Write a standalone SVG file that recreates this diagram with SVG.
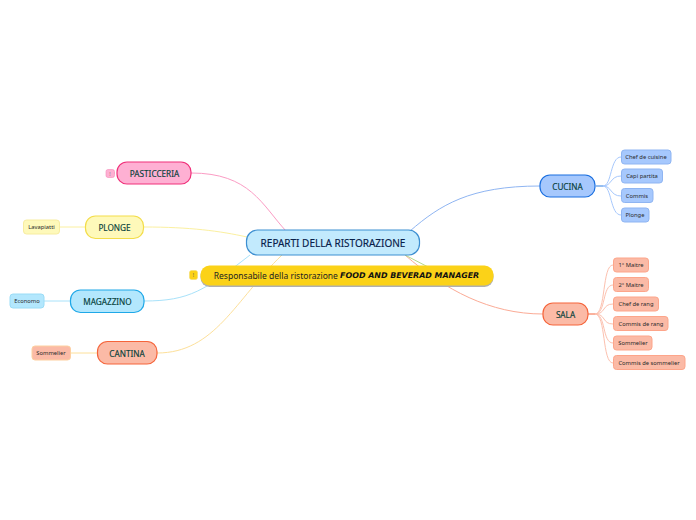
<svg xmlns="http://www.w3.org/2000/svg" width="696" height="520" viewBox="0 0 696 520">
<style>
text{font-family:"Noto Sans","Open Sans",sans-serif;text-anchor:middle;dominant-baseline:central}
.m{font-size:8.200px;fill:#06403a;stroke:#06403a;stroke-width:0.150px}
.r{font-size:10px;fill:#08204a;stroke:#08204a;stroke-width:0.150px}
.n{font-size:5.800px;fill:#2a2a2a}
.c path{fill:none;stroke-width:1}
.mn{stroke-width:1.200}
.sb{stroke-width:1}
</style>
<rect width="696" height="520" fill="#fff"/>
<g class="c" id="connectors">
<path d="M191 173C250 173 262 205 286 231" stroke="#fb9cc4"/>
<path d="M144 227C190 227 220 231 247 237" stroke="#fbf0a0"/>
<path d="M144 301C190 301 205 290 250 255" stroke="#a8e2fa"/>
<path d="M157 353C215 353 235 300 282 255" stroke="#fde09a"/>
<path d="M540 186C470 186 440 205 410 231" stroke="#8fb5f2"/>
<path d="M543 314C490 314 445 290 405 255" stroke="#fbab96"/>
<path d="M405 255L430 268" stroke="#b5d98a"/>
<path d="M115 173H106" stroke="#fb9cc4"/>
<path d="M85 227H60" stroke="#fbf0a0"/>
<path d="M70 301H44" stroke="#a8e2fa"/>
<path d="M97 353H71" stroke="#fde09a"/>
<path d="M596 186H603" stroke="#2f7fe0" stroke-width="2"/>
<path d="M603 186C612 186 610 157 621 157" stroke="#a6c8fd"/>
<path d="M603 186C612 186 610 176 621 176" stroke="#a6c8fd"/>
<path d="M603 186C612 186 610 196 621 196" stroke="#a6c8fd"/>
<path d="M603 186C612 186 610 215 621 215" stroke="#a6c8fd"/>
<path d="M588 314H595" stroke="#f5643a" stroke-width="2"/>
<path d="M595 314C606 314 602 265 613 265" stroke="#fcc0ae"/>
<path d="M595 314C606 314 602 285 613 285" stroke="#fcc0ae"/>
<path d="M595 314C606 314 602 304 613 304" stroke="#fcc0ae"/>
<path d="M595 314C606 314 602 324 613 324" stroke="#fcc0ae"/>
<path d="M595 314C606 314 602 343 613 343" stroke="#fcc0ae"/>
<path d="M595 314C606 314 602 363 613 363" stroke="#fcc0ae"/>
</g>
<g id="root"><rect x="246.500" y="230" width="173" height="25" rx="11" fill="#c2eafd" stroke="#3d8fd1" stroke-width="1.200"/><text class="r" x="333" y="242.500">REPARTI DELLA RISTORAZIONE</text></g>
<g id="responsabile"><rect x="200.500" y="266" width="293" height="20" rx="9" fill="#b0b0b0" transform="translate(0 1)"/><rect x="200.500" y="265.500" width="293" height="20" rx="9" fill="#fbd218"/><text x="346.500" y="275" style="font-size:8.500px;fill:#222">Responsabile della ristorazione <tspan style="font-family:'DejaVu Sans',sans-serif;font-weight:bold;font-style:italic;font-size:7.900px;fill:#111">FOOD AND BEVERAD MANAGER</tspan></text></g>
<g id="note-responsabile"><rect x="189.500" y="270.500" width="8" height="9" rx="2" fill="#fbd218" stroke="#f3dc6a" stroke-width="0.600"/><text x="193.500" y="275" style="font-size:5px;fill:#555">!</text></g>
<g id="pasticceria"><rect x="117" y="162" width="74" height="22" rx="10" fill="#feb0d3" stroke="#f0307a" class="mn"/><text class="m" x="154.500" y="173">PASTICCERIA</text></g>
<g id="note-pasticceria"><rect x="106" y="169.500" width="8.500" height="8" rx="2" fill="#feb0d3" stroke="#f58ab8" stroke-width="0.600"/><text x="110" y="173.500" style="font-size:5px;fill:#777">!</text></g>
<g id="plonge"><rect x="85.500" y="216" width="58" height="22.500" rx="10" fill="#fef9ba" stroke="#f3dd4a" class="mn"/><text class="m" x="114.500" y="227">PLONGE</text></g>
<g id="lavapiatti"><rect x="23.500" y="220" width="36" height="14" rx="3" fill="#fef9ba" stroke="#f7ecA0" class="sb"/><text class="n" x="41.500" y="227">Lavapiatti</text></g>
<g id="magazzino"><rect x="70.500" y="290" width="73.500" height="22.500" rx="10" fill="#b3e7fd" stroke="#1fa8e8" class="mn"/><text class="m" x="107.500" y="301">MAGAZZINO</text></g>
<g id="economo"><rect x="10" y="294" width="34" height="14" rx="3" fill="#b3e7fd" stroke="#9adcf6" class="sb"/><text class="n" x="27" y="301">Economo</text></g>
<g id="cantina"><rect x="97.500" y="341.500" width="59.500" height="22.500" rx="10" fill="#fbbaa6" stroke="#f5643a" class="mn"/><text class="m" x="127" y="353">CANTINA</text></g>
<g id="sommelier-c"><rect x="32" y="346" width="38.500" height="14" rx="3" fill="#fbbaa6" stroke="#fdd0a0" class="sb"/><text class="n" x="51" y="353">Sommelier</text></g>
<g id="cucina"><rect x="540" y="175" width="55" height="22" rx="10" fill="#a6c8fd" stroke="#1a6fe0" class="mn"/><text class="m" x="567.500" y="186">CUCINA</text></g>
<g id="chef-cuisine"><rect x="621.500" y="150" width="49.500" height="14" rx="3" fill="#a6c8fd" stroke="#8fb5f2" class="sb"/><text class="n" x="646" y="157">Chef de cuisine</text></g>
<g id="capi-partita"><rect x="621.500" y="169" width="41" height="14" rx="3" fill="#a6c8fd" stroke="#8fb5f2" class="sb"/><text class="n" x="642" y="176">Capi partita</text></g>
<g id="commis"><rect x="621.500" y="188.500" width="31.500" height="14" rx="3" fill="#a6c8fd" stroke="#8fb5f2" class="sb"/><text class="n" x="637" y="195.500">Commis</text></g>
<g id="plonge-c"><rect x="621.500" y="208" width="27.500" height="14" rx="3" fill="#a6c8fd" stroke="#8fb5f2" class="sb"/><text class="n" x="635" y="215">Plonge</text></g>
<g id="sala"><rect x="543" y="303" width="45" height="22" rx="10" fill="#fbbaa6" stroke="#f5643a" class="mn"/><text class="m" x="565.500" y="314">SALA</text></g>
<g id="maitre1"><rect x="613.500" y="258" width="35" height="14" rx="3" fill="#fbbaa6" stroke="#fda58a" class="sb"/><text class="n" x="631" y="265">1° Maitre</text></g>
<g id="maitre2"><rect x="613.500" y="277.500" width="35" height="14" rx="3" fill="#fbbaa6" stroke="#fda58a" class="sb"/><text class="n" x="631" y="284.500">2° Maitre</text></g>
<g id="chef-rang"><rect x="613.500" y="297" width="45" height="14" rx="3" fill="#fbbaa6" stroke="#fda58a" class="sb"/><text class="n" x="636" y="304">Chef de rang</text></g>
<g id="commis-rang"><rect x="613.500" y="316.500" width="54.500" height="14" rx="3" fill="#fbbaa6" stroke="#fda58a" class="sb"/><text class="n" x="641" y="323.500">Commis de rang</text></g>
<g id="sommelier-s"><rect x="613.500" y="336" width="38.500" height="14" rx="3" fill="#fbbaa6" stroke="#fda58a" class="sb"/><text class="n" x="633" y="343">Sommelier</text></g>
<g id="commis-sommelier"><rect x="613.500" y="355.500" width="71.500" height="14" rx="3" fill="#fbbaa6" stroke="#fda58a" class="sb"/><text class="n" x="649" y="362.500">Commis de sommelier</text></g>
</svg>
